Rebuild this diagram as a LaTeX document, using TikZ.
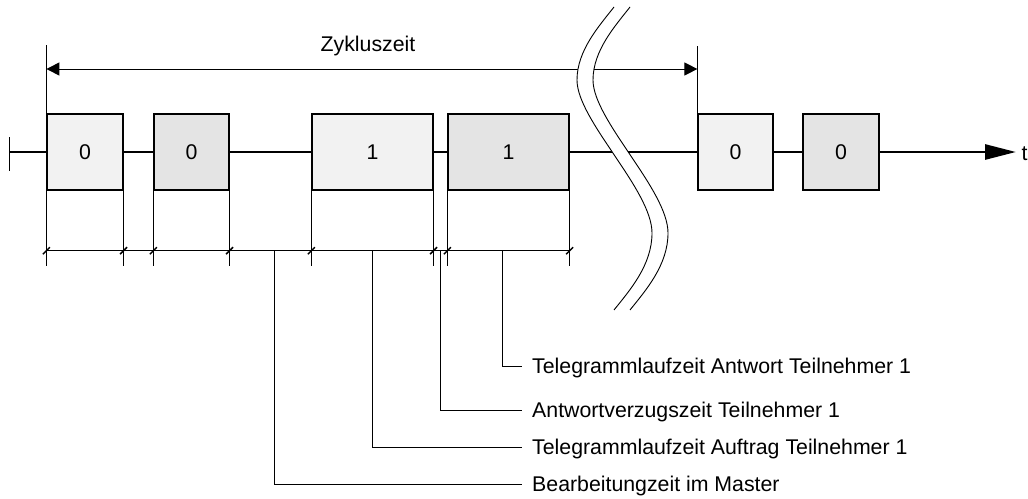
\documentclass[tikz,border=0pt]{standalone}
\usepackage{fontspec}
\setmainfont{Liberation Sans}
\usetikzlibrary{arrows.meta}
\definecolor{lite}{HTML}{F2F2F2}
\definecolor{dark}{HTML}{E4E4E4}
\begin{document}
\begin{tikzpicture}[x=1pt,y=-1pt,
  font=\fontsize{21.3}{25}\selectfont,
  box/.style={draw, line width=1.2pt, minimum width=#1, minimum height=76pt, inner sep=0pt},
  timeline/.style={line width=2.8pt},
  thinline/.style={line width=1pt},
  slash/.style={line width=1.5pt},
  lab/.style={anchor=base west, inner sep=0pt},
  wave/.style={line width=0.9pt}]
\useasboundingbox (0,0) rectangle (1028,498);

% time axis
\coordinate (tstart) at (9.5,152);
\coordinate (tend) at (1016,152);
\node[box=76pt,fill=lite] (b1) at (85,152) {0};
\node[box=75pt,fill=dark] (b2) at (191.5,152) {0};
\node[box=121pt,fill=lite] (b3) at (372.5,152) {1};
\node[box=121pt,fill=dark] (b4) at (508.5,152) {1};
\node[box=75pt,fill=lite] (b5) at (735.5,152) {0};
\node[box=76pt,fill=dark] (b6) at (841,152) {0};
\draw[timeline] (tstart) -- (b1.west);
\draw[timeline] (b1.east) -- (b2.west);
\draw[timeline] (b2.east) -- (b3.west);
\draw[timeline] (b3.east) -- (b4.west);
\draw[timeline] (b4.east) -- (b5.west);
\draw[timeline,-{Triangle[length=31pt,width=15pt]}] (b6.east) -- (tend);
\draw[timeline] (b5.east) -- (b6.west);
\draw[thinline] (tstart) ++(0,-15) -- ++(0,34);
\node[anchor=base west, inner sep=0pt] (tlab) at (1021.5,160) {t};

% Zykluszeit
\coordinate (ytop) at (0,45);
\coordinate (zy) at (0,69);
\draw[thinline] (b1.north west) -- (b1.north west |- ytop);
\draw[thinline] (b5.north west) -- (b5.north west |- 0,46);
\draw[thinline,{Triangle[length=13pt,width=13pt]}-{Triangle[length=13pt,width=13pt]}]
  (b1.north west |- zy) -- (b5.north west |- zy);
\node[anchor=base, inner sep=0pt] (zlab) at (368,51.7) {Zykluszeit};

% extension lines and dimension line
\coordinate (extbot) at (0,266);
\coordinate (dy) at (0,250.7);
\foreach \p in {b1.south west,b1.south east,b2.south west,b2.south east,b3.south west,b3.south east,b4.south west,b4.south east}{
  \draw[thinline] (\p) -- (\p |- extbot);
}
\draw[thinline] (b1.south west |- dy) -- (b4.south east |- dy);
\foreach \p in {b1.south west,b1.south east,b2.south west,b2.south east,b3.south west,b3.south east,b4.south west,b4.south east}{
  \draw[slash] (\p |- dy) ++(-3.5,3.5) -- ++(7,-7);
}

% leaders
\coordinate (l1) at (274.5,250.7);
\coordinate (l2) at (372.7,250.7);
\coordinate (l3) at (440.5,250.7);
\coordinate (l4) at (502.3,250.7);
\coordinate (e1) at (522,484);
\coordinate (e2) at (522,447.5);
\coordinate (e3) at (522,410);
\coordinate (e4) at (522,366);
\draw[thinline] (l1) |- (e1);
\draw[thinline] (l2) |- (e2);
\draw[thinline] (l3) |- (e3);
\draw[thinline] (l4) |- (e4);
\node[lab] (t1) at (532,491) {Bearbeitungzeit im Master};
\node[lab] (t2) at (532,454.5) {Telegrammlaufzeit Auftrag Teilnehmer 1};
\node[lab] (t3) at (532,417) {Antwortverzugszeit Teilnehmer 1};
\node[lab] (t4) at (532,373) {Telegrammlaufzeit Antwort Teilnehmer 1};

% break wave
\path[fill=white] (614,7) .. controls (600,25) and (577,50) .. (577,80)
  .. controls (577,120) and (652,190) .. (652,233)
  .. controls (652,265) and (630,290) .. (614,310) -- (630,310)
  .. controls (646,290) and (668,265) .. (668,233)
  .. controls (668,190) and (593,120) .. (593,80)
  .. controls (593,50) and (616,25) .. (630,7) -- cycle;
\draw[wave] (614,7) .. controls (600,25) and (577,50) .. (577,80)
  .. controls (577,120) and (652,190) .. (652,233)
  .. controls (652,265) and (630,290) .. (614,310);
\draw[wave] (630,7) .. controls (616,25) and (593,50) .. (593,80)
  .. controls (593,120) and (668,190) .. (668,233)
  .. controls (668,265) and (646,290) .. (630,310);
\end{tikzpicture}
\end{document}
